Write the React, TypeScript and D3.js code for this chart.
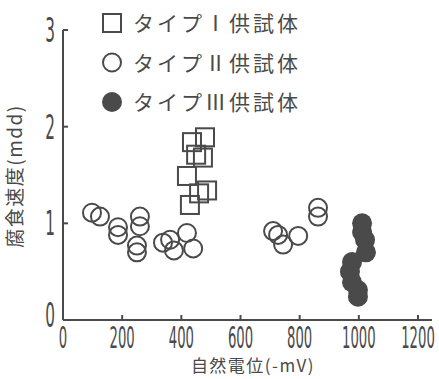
import React from "react";
import * as d3 from "d3";

// series (x: natural potential -mV, y: corrosion rate mdd)
const typeI: [number, number][] = [
  [480, 1.89], [436, 1.84], [450, 1.71], [473, 1.68],
  [419, 1.49], [487, 1.34], [460, 1.31], [429, 1.19],
];
const typeII: [number, number][] = [
  [98, 1.11], [125, 1.07], [186, 0.96], [186, 0.88],
  [260, 1.07], [260, 0.97], [250, 0.77], [250, 0.7],
  [338, 0.8], [362, 0.83], [375, 0.72], [419, 0.9], [440, 0.74],
  [710, 0.92], [727, 0.88], [744, 0.78], [795, 0.87],
  [862, 1.16], [862, 1.07],
];
const typeIII: [number, number][] = [
  [1011, 1.0], [1011, 0.91], [1021, 0.83], [1024, 0.7],
  [977, 0.6], [970, 0.5], [977, 0.39], [997, 0.31], [997, 0.24],
];
const xTicks = [0, 200, 400, 600, 800, 1000, 1200];
const yTicks = [0, 1, 2, 3];
const legendLabels = ["タイプⅠ供試体", "タイプⅡ供試体", "タイプⅢ供試体"];

const W = 439;
const H = 379;
const ink = "#4a4a4a";
const jp = "'Noto Sans CJK JP', sans-serif";

export default function App() {
  const x = d3.scaleLinear().domain([0, 1200]).range([63, 418]);
  const y = d3.scaleLinear().domain([0, 3]).range([320, 30]);
  const r = 9;

  return (
    <svg
      width={W}
      height={H}
      style={{ position: "absolute", left: 0, top: 0, background: "#fff" }}
    >
      {/* axes */}
      <line x1={x(0)} x2={x(0)} y1={y(3)} y2={y(0)} stroke={ink} strokeWidth={2} />
      <line x1={x(0)} x2={432} y1={y(0)} y2={y(0)} stroke={ink} strokeWidth={2} />
      {yTicks.map((t) => (
        <g key={"y" + t}>
          {t > 0 && (
            <line x1={x(0)} x2={x(0) + 5} y1={y(t)} y2={y(t)} stroke={ink} strokeWidth={2} />
          )}
          <text
            transform={`translate(50,${t === 0 ? y(t) + 7 : y(t) + 12}) scale(0.45,1)`}
            textAnchor="middle"
            fontFamily="'DejaVu Sans', sans-serif"
            fontSize={34}
            fill={ink}
          >
            {t}
          </text>
        </g>
      ))}
      {xTicks.map((t) => (
        <g key={"x" + t}>
          {t > 0 && (
            <line x1={x(t)} x2={x(t)} y1={y(0)} y2={y(0) - 5} stroke={ink} strokeWidth={2} />
          )}
          <text
            transform={`translate(${x(t)},348) scale(0.44,1)`}
            textAnchor="middle"
            fontFamily="'DejaVu Sans', sans-serif"
            fontSize={30}
            fill={ink}
          >
            {t}
          </text>
        </g>
      ))}

      {/* axis titles */}
      <text
        x={253}
        y={372}
        textAnchor="middle"
        fontFamily={jp}
        fontSize={17}
        letterSpacing={1.5}
        fill={ink}
      >
        自然電位(-mV)
      </text>
      <text
        transform="translate(22,176) rotate(-90)"
        textAnchor="middle"
        fontFamily={jp}
        fontSize={19}
        letterSpacing={1.5}
        fill={ink}
      >
        腐食速度(mdd)
      </text>

      {/* data */}
      {typeII.map(([a, b], i) => (
        <circle key={"c" + i} cx={x(a)} cy={y(b)} r={r} fill="none" stroke={ink} strokeWidth={2} />
      ))}
      {typeI.map(([a, b], i) => (
        <rect
          key={"s" + i}
          x={x(a) - r}
          y={y(b) - r}
          width={2 * r}
          height={2 * r}
          fill="none"
          stroke={ink}
          strokeWidth={2}
        />
      ))}
      {typeIII.map(([a, b], i) => (
        <circle key={"f" + i} cx={x(a)} cy={y(b)} r={r + 1} fill={ink} />
      ))}

      {/* legend */}
      {legendLabels.map((label, i) => {
        const cy = 23 + i * 39.5;
        return (
          <g key={"l" + i}>
            {i === 0 && (
              <rect x={103} y={cy - 9} width={18} height={18} fill="none" stroke={ink} strokeWidth={2} />
            )}
            {i === 1 && <circle cx={112} cy={cy} r={9} fill="none" stroke={ink} strokeWidth={2} />}
            {i === 2 && <circle cx={112} cy={cy} r={10} fill={ink} />}
            <text
              x={133}
              y={cy + 8}
              fontFamily={jp}
              fontSize={21}
              letterSpacing={3}
              fill={ink}
            >
              {label}
            </text>
          </g>
        );
      })}
    </svg>
  );
}
